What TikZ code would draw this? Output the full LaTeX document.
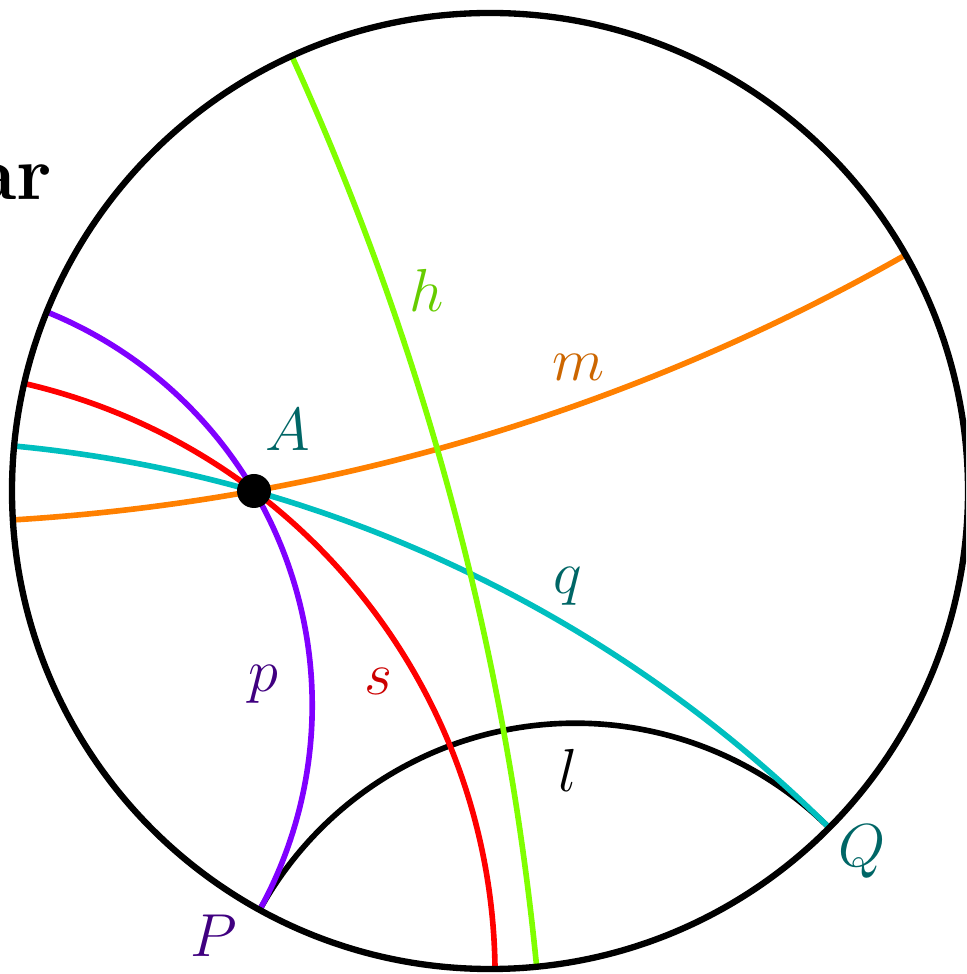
\documentclass[tikz,border=0pt]{standalone}
\usepackage{amsmath,amssymb}
\usepackage{tikz}
\usetikzlibrary{calc}
\definecolor{hviolet}{HTML}{8000FF}
\definecolor{hred}{HTML}{FF0000}
\definecolor{hcyan}{HTML}{00BFBF}
\definecolor{horange}{HTML}{FF8000}
\definecolor{hgreen}{HTML}{80FF00}
\definecolor{lteal}{HTML}{006666}
\definecolor{lviolet}{HTML}{400080}
\definecolor{lred}{HTML}{CC0000}
\definecolor{lorange}{HTML}{CC6600}
\definecolor{lgreen}{HTML}{66CC00}
% geodesic between two ideal points (angles, first < second)
\newcommand{\geodesic}[3]{%
  \pgfmathsetmacro\gphi{(#1+#2)/2}
  \pgfmathsetmacro\galpha{(#2-#1)/2}
  \pgfmathsetmacro\grad{\R*tan(\galpha)}
  \draw[#3] (#1:\R) arc[start angle=\gphi+270-\galpha, end angle=\gphi+90+\galpha, radius=\grad];
}

\begin{document}
\begin{tikzpicture}[geo/.style={line width=1.6pt}, lab/.style={font=\LARGE}]
 \def\R{4.78}
 \useasboundingbox (-4.90,-4.83) rectangle (4.76,4.91);
 \clip (-4.90,-4.83) rectangle (4.76,4.91);
 \node[anchor=base east, inner sep=0pt, font=\fontsize{22}{26}\selectfont\bfseries] (title) at (-4.37,2.91) {ar};
 \geodesic{241.2}{315.2}{geo, black}
 \geodesic{174.6}{315.2}{geo, hcyan}
 \geodesic{167.0}{270.6}{geo, hred}
 \geodesic{158.0}{241.2}{geo, hviolet}
 \geodesic{29.6}{183.47}{geo, horange}
 \geodesic{114.5}{275.6}{geo, hgreen}
 \draw[line width=1.8pt] (0,0) circle[radius=\R];
 \coordinate (A) at (-2.36,0);
 \fill (A) circle[radius=0.17];
 \node[lab, text=lteal] (labA) at (-2.02,0.61) {$A$};
 \node[lab, text=lgreen] (labh) at (-0.63,2.01) {$h$};
 \node[lab, text=lorange] (labm) at (0.88,1.24) {$m$};
 \node[lab, text=lteal] (labq) at (0.78,-0.95) {$q$};
 \node[lab, text=lviolet] (labp) at (-2.27,-1.93) {$p$};
 \node[lab, text=lred] (labs) at (-1.11,-1.90) {$s$};
 \node[lab] (labl) at (0.78,-2.79) {$l$};
 \node[lab, text=lviolet] (labP) at (-2.76,-4.45) {$P$};
 \node[lab, text=lteal] (labQ) at (3.72,-3.61) {$Q$};
\end{tikzpicture}
\end{document}
